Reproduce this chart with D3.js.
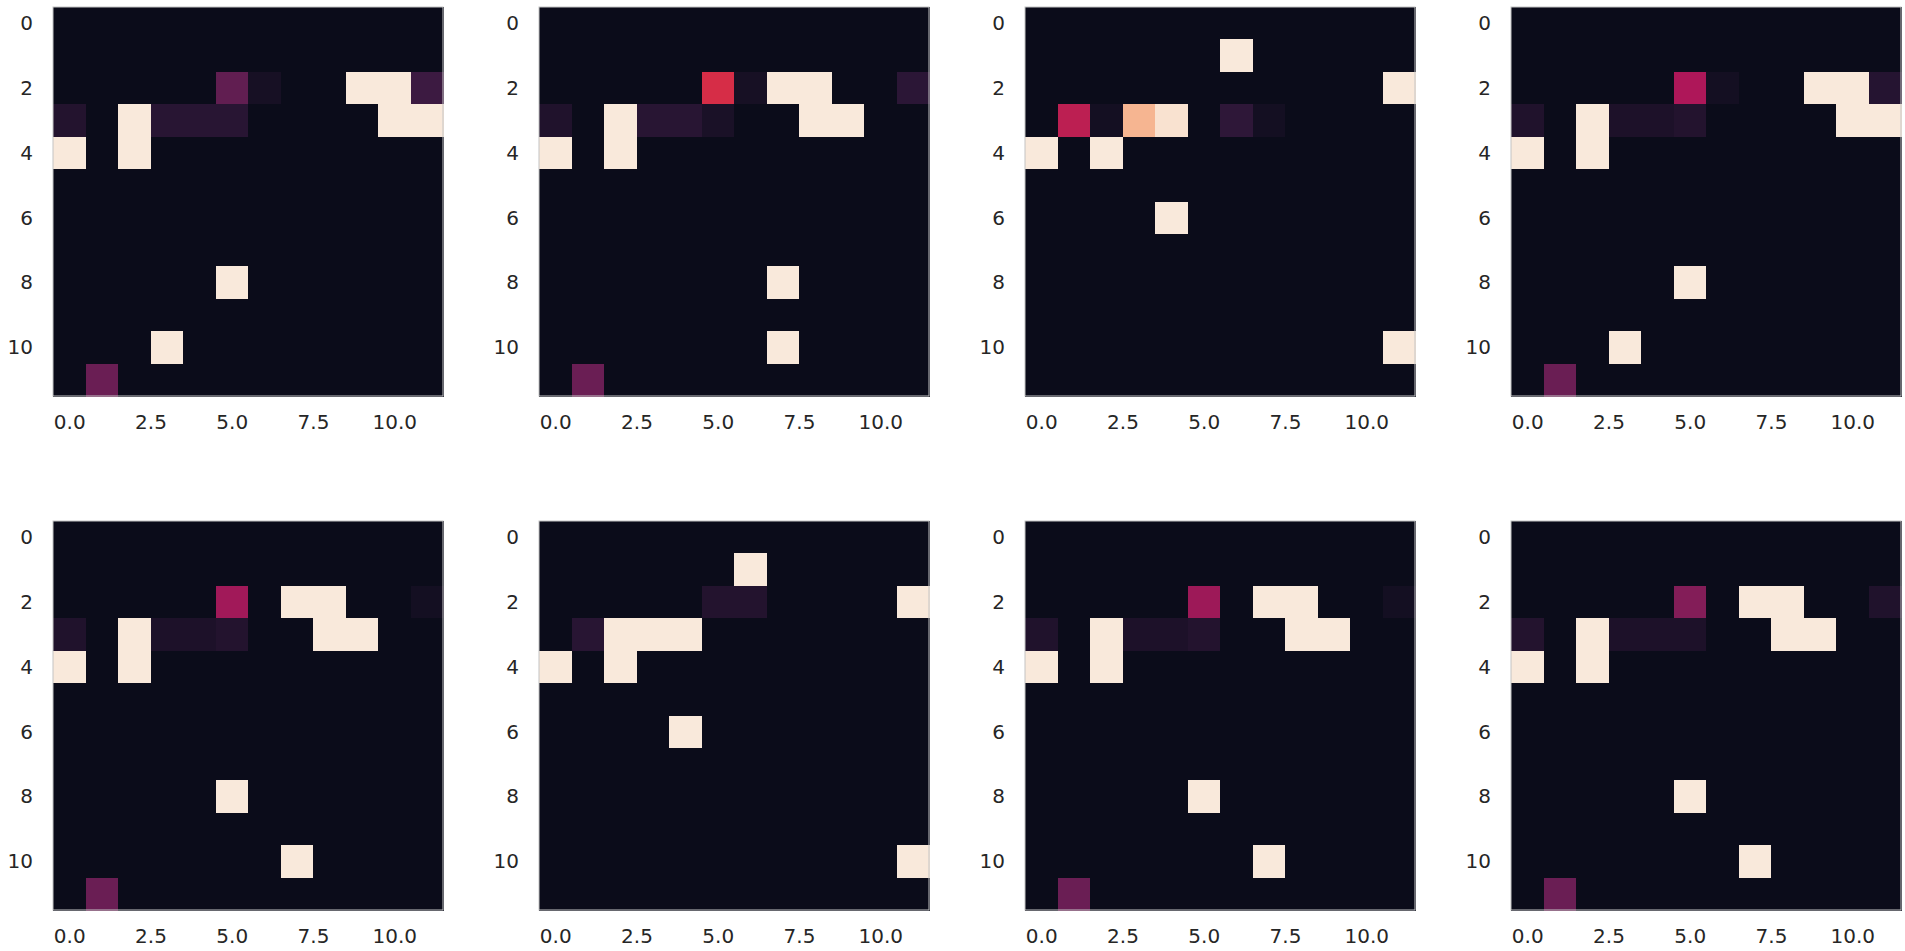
<!DOCTYPE html>
<html>
<head>
<meta charset="utf-8">
<script src="https://cdn.jsdelivr.net/npm/d3@7"></script>
<style>
  html, body { margin: 0; padding: 0; background: #ffffff; }
  svg { display: block; }
  .tick text { font-family: "DejaVu Sans", sans-serif; font-size: 20px; fill: #262626; }
</style>
</head>
<body>
<svg id="chart" width="1905" height="951"></svg>
<script>
// ---- data: grid size, tick values, sparse non-zero cells per panel [row, col, value] ----
const nRows = 12;
const nCols = 12;
const xTickValues = [0, 2.5, 5, 7.5, 10];
const yTickValues = [0, 2, 4, 6, 8, 10];

const panel1 = [[2,5,0.25],[2,6,0.04],[2,9,1],[2,10,1],[2,11,0.16],
  [3,0,0.08],[3,2,1],[3,3,0.10],[3,4,0.10],[3,5,0.10],[3,10,1],[3,11,1],
  [4,0,1],[4,2,1],[8,5,1],[10,3,1],[11,1,0.27]];
const panel2 = [[2,5,0.54],[2,6,0.04],[2,7,1],[2,8,1],[2,11,0.11],
  [3,0,0.07],[3,2,1],[3,3,0.10],[3,4,0.10],[3,5,0.05],[3,8,1],[3,9,1],
  [4,0,1],[4,2,1],[8,7,1],[10,7,1],[11,1,0.27]];
const panel3 = [[1,6,1],[2,11,1],
  [3,1,0.47],[3,2,0.03],[3,3,0.86],[3,4,0.98],[3,6,0.12],[3,7,0.03],
  [4,0,1],[4,2,1],[6,4,1],[10,11,1]];
const panel4 = [[2,5,0.43],[2,6,0.03],[2,9,1],[2,10,1],[2,11,0.09],
  [3,0,0.07],[3,2,1],[3,3,0.06],[3,4,0.06],[3,5,0.08],[3,10,1],[3,11,1],
  [4,0,1],[4,2,1],[8,5,1],[10,3,1],[11,1,0.27]];
const panel5 = [[2,5,0.40],[2,7,1],[2,8,1],[2,11,0.03],
  [3,0,0.07],[3,2,1],[3,3,0.06],[3,4,0.06],[3,5,0.08],[3,8,1],[3,9,1],
  [4,0,1],[4,2,1],[8,5,1],[10,7,1],[11,1,0.27]];
const panel6 = [[1,6,1],[2,5,0.08],[2,6,0.08],[2,11,1],
  [3,1,0.10],[3,2,1],[3,3,1],[3,4,1],
  [4,0,1],[4,2,1],[6,4,1],[10,11,1]];
const panel7 = [[2,5,0.39],[2,7,1],[2,8,1],[2,11,0.03],
  [3,0,0.07],[3,2,1],[3,3,0.06],[3,4,0.06],[3,5,0.08],[3,8,1],[3,9,1],
  [4,0,1],[4,2,1],[8,5,1],[10,7,1],[11,1,0.27]];
const panel8 = [[2,5,0.33],[2,7,1],[2,8,1],[2,11,0.07],
  [3,0,0.08],[3,2,1],[3,3,0.06],[3,4,0.06],[3,5,0.06],[3,8,1],[3,9,1],
  [4,0,1],[4,2,1],[8,5,1],[10,7,1],[11,1,0.27]];

const panels = [panel1, panel2, panel3, panel4, panel5, panel6, panel7, panel8];

// seaborn "rocket"-like colormap key stops (low end matched to the picture's tone)
const rocketStops = [0, 1/7, 2/7, 3/7, 4/7, 5/7, 6/7, 1];
const rocketColors = ["#0b0c1a", "#35193e", "#701f57", "#ad1759", "#e13342", "#f37651", "#f6b48f", "#f9e9db"];

// ---- drawing ----
const color = d3.scaleLinear().domain(rocketStops).range(rocketColors).interpolate(d3.interpolateRgb).clamp(true);

const svg = d3.select("#chart");
const panelW = 390, panelH = 389;
const lefts = [53, 539, 1025, 1511];
const tops = [7, 521];

panels.forEach((cells, i) => {
  const left = lefts[i % 4];
  const top = tops[Math.floor(i / 4)];
  const x = d3.scaleLinear().domain([-0.5, nCols - 0.5]).range([left, left + panelW]);
  const y = d3.scaleLinear().domain([-0.5, nRows - 0.5]).range([top, top + panelH]);

  // full grid from sparse cells
  const grid = [];
  for (let r = 0; r < nRows; r++) for (let c = 0; c < nCols; c++) grid.push({r, c, v: 0});
  cells.forEach(([r, c, v]) => { grid[r * nCols + c].v = v; });

  const g = svg.append("g");
  g.selectAll("rect.cell").data(grid).join("rect")
    .attr("class", "cell")
    .attr("x", d => x(d.c - 0.5))
    .attr("y", d => y(d.r - 0.5))
    .attr("width", d => x(d.c + 0.5) - x(d.c - 0.5) + 0.5)
    .attr("height", d => y(d.r + 0.5) - y(d.r - 0.5) + 0.5)
    .attr("fill", d => color(d.v))
    .attr("shape-rendering", "crispEdges");

  // frame
  g.append("rect")
    .attr("x", x(-0.5)).attr("y", y(-0.5))
    .attr("width", x(nCols - 0.5) - x(-0.5))
    .attr("height", y(nRows - 0.5) - y(-0.5))
    .attr("fill", "none").attr("stroke", "#c4c4c4").attr("stroke-width", 1);

  const xAxis = d3.axisBottom(x).tickValues(xTickValues).tickFormat(d3.format(".1f")).tickSize(0).tickPadding(19);
  const yAxis = d3.axisLeft(y).tickValues(yTickValues).tickFormat(d3.format("d")).tickSize(0).tickPadding(20);

  const gx = g.append("g").attr("transform", `translate(0,${top + panelH})`).call(xAxis);
  gx.select(".domain").remove();
  const gy = g.append("g").attr("transform", `translate(${left},0)`).call(yAxis);
  gy.select(".domain").remove();
});
</script>
</body>
</html>
